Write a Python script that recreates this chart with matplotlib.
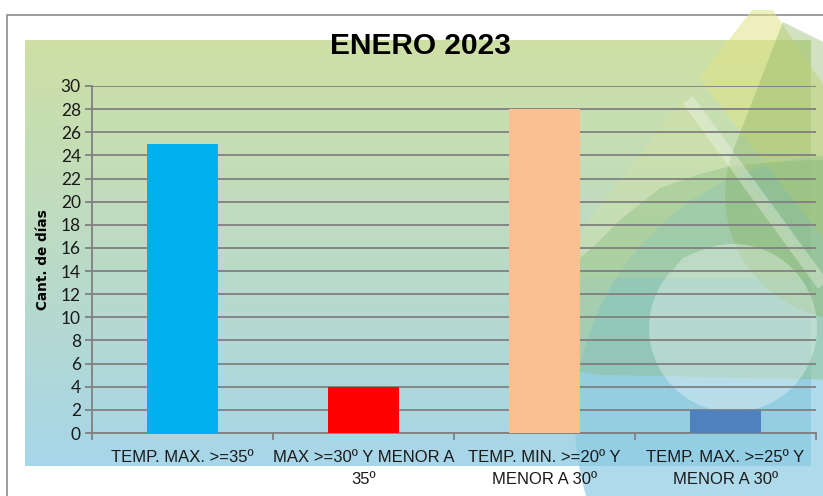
import numpy as np
import matplotlib
matplotlib.use("Agg")
import matplotlib.pyplot as plt
from matplotlib.patches import Rectangle, Polygon, Circle
from matplotlib.colors import LinearSegmentedColormap

categories = ["TEMP. MAX. >=35º", "MAX >=30º Y MENOR A\n35º",
              "TEMP. MIN. >=20º Y\nMENOR A 30º", "TEMP. MAX. >=25º Y\nMENOR A 30º"]
dias = [25, 4, 28, 2]
bar_colors = ["#00b0f0", "#ff0000", "#fac090", "#4f81bd"]
yticks = list(range(0, 31, 2))
title = "ENERO 2023"
ylabel = "Cant. de días"

W, H = 823, 496

fig = plt.figure(figsize=(W / 100, H / 100), dpi=100)

# background layer in pixel coordinates
bg = fig.add_axes([0, 0, 1, 1])
bg.set_xlim(0, W)
bg.set_ylim(H, 0)
bg.axis("off")

bg.add_patch(Rectangle((7, 15), 900, 600, facecolor="white", edgecolor="#8c8c8c", lw=1.2))

cmap = LinearSegmentedColormap.from_list("bg", ["#cee0a4", "#bcdbc6", "#a7d6ea"])
grad = np.linspace(0, 1, 256).reshape(-1, 1)
bg.imshow(grad, cmap=cmap, extent=(25, 811, 466, 40), aspect="auto", zorder=1)


def drop_shape(apex, center, radius):
    # teardrop: apex point joined to the far side of a circle
    ax_, ay_ = apex
    cx, cy = center
    d = np.hypot(ax_ - cx, ay_ - cy)
    a0 = np.degrees(np.arctan2(ay_ - cy, ax_ - cx))
    off = np.degrees(np.arccos(radius / d))
    ang = np.radians(np.linspace(a0 + off, a0 + 360 - off, 90))
    return [apex] + list(zip(cx + radius * np.cos(ang), cy + radius * np.sin(ang)))


# decoration shapes on the right (watermark look)
bg.add_patch(Circle((840, 420), 265, facecolor="#8ccbe3", alpha=0.7, lw=0, zorder=2))
bg.add_patch(Polygon([(752, 10), (773, 10), (840, 110), (840, 260), (699, 78)],
                     facecolor="#dfe488", alpha=0.55, lw=0, zorder=2.05))
bg.add_patch(Polygon([(683, 98), (545, 278), (840, 278), (840, 300)],
                     facecolor="#d6e3a0", alpha=0.35, lw=0, zorder=2.05))
green_blob = [(545, 300), (560, 268), (580, 258), (593, 247), (620, 220), (660, 188),
              (700, 174), (727, 167), (770, 162), (813, 160), (840, 160), (840, 380),
              (700, 377), (653, 376), (600, 375), (560, 368), (545, 350)]
bg.add_patch(Polygon(green_blob, facecolor="#8cbf84", alpha=0.42, lw=0, zorder=2.1))
bg.add_patch(Polygon(drop_shape((783, 22), (850, 195), 125), facecolor="#8db566",
                     alpha=0.4, lw=0, zorder=2.2))
bg.plot([688, 823], [100, 285], color="white", lw=9, alpha=0.3, zorder=3, solid_capstyle="butt")
bg.add_patch(Polygon(drop_shape((683, 258), (733, 328), 84), facecolor="white",
                     alpha=0.32, lw=0, zorder=3))

# main chart
ax = fig.add_axes([92 / W, 63 / H, 724 / W, 347 / H])
ax.patch.set_alpha(0)
x = np.arange(len(dias))
ax.bar(x, dias, width=0.39, color=bar_colors, zorder=3)
ax.set_xlim(-0.5, 3.5)
ax.set_ylim(0, 30)
ax.set_yticks(yticks)
ax.yaxis.grid(True, color="#808080", lw=1.3)
ax.set_axisbelow(True)
for s in ["top", "right"]:
    ax.spines[s].set_visible(False)
for s in ["left", "bottom"]:
    ax.spines[s].set_color("#808080")
    ax.spines[s].set_linewidth(1.3)

ax.set_xticks(x)
ax.set_xticklabels(categories, family="Liberation Sans", fontstretch="condensed",
                   fontsize=12, color="#1a1a1a", linespacing=1.6)
ax.set_xticks(np.arange(-0.5, 4, 1), minor=True)
ax.tick_params(axis="x", which="major", length=0, pad=12)
ax.tick_params(axis="x", which="minor", length=5, width=1.3, color="#808080", direction="out")
ax.tick_params(axis="y", length=5, width=1.3, color="#808080", pad=3)
for lbl in ax.get_yticklabels():
    lbl.set_family("Lato")
    lbl.set_fontsize(12.5)
    lbl.set_color("#1a1a1a")

fig.text(43 / W, 1 - 260 / H, ylabel, rotation=90, ha="center", va="center",
         fontsize=9.8, fontweight="bold", family="DejaVu Sans")
fig.text(421 / W, 1 - 46 / H, title, ha="center", va="center",
         fontsize=21.5, fontweight="bold", family="Liberation Sans", fontstretch="condensed")

fig.savefig("out.png", dpi=100)
